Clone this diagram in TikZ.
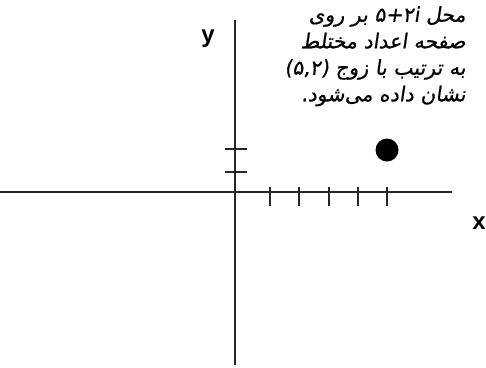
\documentclass[tikz,border=0pt]{standalone}
\usepackage{fontspec}
\setmainfont{Liberation Sans}
\newfontfamily\arabicfont[Script=Arabic,FakeSlant=0.15,FakeBold=0.6]{DejaVu Sans}
\TeXXeTstate=1
\begin{document}
\begin{tikzpicture}[x=1pt,y=-1pt,
  axis/.style={line width=1.5pt,black!85},
  tick/.style={line width=1.5pt,black!85},
  lbl/.style={font=\fontsize{24}{24}\selectfont\bfseries,inner sep=0pt},
  fa/.style={font=\arabicfont\fontsize{20.5}{26.5}\selectfont,align=right,inner sep=0pt,anchor=north east}]
\useasboundingbox (0,0) rectangle (486,367);
\coordinate (xl) at (0,192);
\coordinate (xr) at (452,192);
\coordinate (yt) at (235,20);
\coordinate (yb) at (235,365);
\draw[axis] (xl) -- (xr);
\draw[axis] (yt) -- (yb);
\foreach \i/\x in {1/270,2/299,3/329,4/358,5/387}{
  \coordinate (xt\i a) at (\x,187);
  \coordinate (xt\i b) at (\x,206);
  \draw[tick] (xt\i a) -- (xt\i b);
}
\foreach \i/\y in {1/172,2/149}{
  \coordinate (yt\i a) at (225,\y);
  \coordinate (yt\i b) at (247,\y);
  \draw[tick] (yt\i a) -- (yt\i b);
}
\node[circle,fill=black,inner sep=0pt,minimum size=23pt] (pt) at (387,150) {};
\node[lbl] (xlab) at (479,223) {x};
\node[lbl] (ylab) at (208,39) {y};
\node[fa] (txt) at (466,6) {%
\beginR محل \beginL ۵+۲i\endL{} بر روی\endR\\
\beginR صفحه اعداد مختلط\endR\\
\beginR به ترتیب با زوج \beginL(۵,۲)\endL\endR\\
\beginR نشان داده می‌شود.\endR};
\end{tikzpicture}
\end{document}
